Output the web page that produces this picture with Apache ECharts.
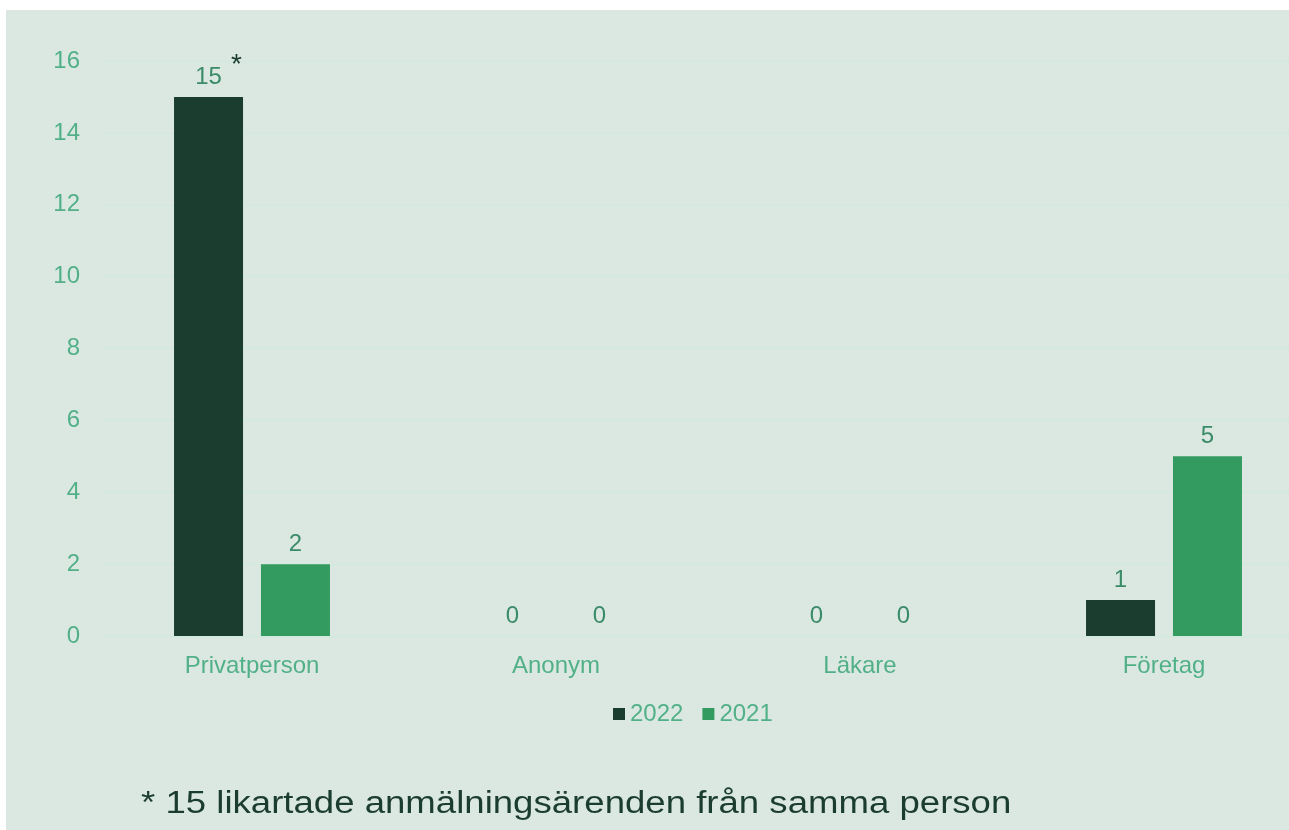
<!DOCTYPE html>
<html>
<head>
<meta charset="utf-8">
<title>Anmälningar</title>
<script src="https://cdn.jsdelivr.net/npm/echarts@6/dist/echarts.min.js"></script>
<style>
  body {
    margin: 0;
    background: #ffffff;
    overflow: hidden;
  }
  /* diagrammet går ut förbi fönstrets högerkant, som i originalet */
  #main {
    position: absolute;
    left: 6px;
    top: 10px;
    width: 1310px;
    height: 820px;
    background: #dbe8e1;
  }
</style>
</head>
<body>
<div id="main"></div>
<script>
// data
var categories = ["Privatperson", "Anonym", "Läkare", "Företag"];
var values2022 = [15, 0, 0, 1];
var values2021 = [2, 0, 0, 5];
var yMin = 0;
var yMax = 16;
var yStep = 2;
var noteText = "* 15 likartade anmälningsärenden från samma person";

var font = "'Liberation Sans', Arial, sans-serif";
var lightGreen = "#52b088";
var labelGreen = "#3a8b68";
var darkGreen = "#1b3d2f";

// värdeetikett, första stapeln får en asterisk
function labelFormatter(params) {
  if (params.seriesName === "2022" && params.dataIndex === 0) {
    return "{p|}{v|" + params.value + "}{a|*}";
  }
  return "{v|" + params.value + "}";
}

var labelOpt = {
  show: true,
  position: "top",
  distance: 8,
  formatter: labelFormatter,
  rich: {
    v: { fontSize: 24, color: labelGreen, fontFamily: font, verticalAlign: "bottom" },
    p: { width: 20 },
    a: {
      fontSize: 28,
      color: darkGreen,
      fontFamily: font,
      verticalAlign: "bottom",
      padding: [0, 0, 10, 9],
    },
  },
};

var option = {
  animation: false,
  textStyle: { fontFamily: font },
  grid: {
    left: 94,
    right: 0,
    top: 51,
    bottom: 194,
  },
  legend: {
    data: ["2022", "2021"],
    left: 602,
    top: 687,
    icon: "rect",
    itemWidth: 12,
    itemHeight: 12,
    itemGap: 19,
    textStyle: { fontSize: 24, color: lightGreen, fontFamily: font },
  },
  xAxis: {
    type: "category",
    data: categories,
    axisLine: { show: false },
    axisTick: { show: false },
    axisLabel: { fontSize: 24, color: lightGreen, margin: 18, fontFamily: font },
  },
  yAxis: {
    type: "value",
    min: yMin,
    max: yMax,
    interval: yStep,
    axisLine: { show: false },
    axisTick: { show: false },
    axisLabel: { fontSize: 24, color: lightGreen, margin: 20, fontFamily: font },
    splitLine: { lineStyle: { color: "#cdeadb", width: 1 } },
  },
  series: [
    {
      name: "2022",
      type: "bar",
      data: values2022,
      barWidth: 69,
      barGap: "26%",
      itemStyle: { color: darkGreen },
      label: labelOpt,
    },
    {
      name: "2021",
      type: "bar",
      data: values2021,
      barWidth: 69,
      barGap: "26%",
      itemStyle: { color: "#339b60" },
      label: labelOpt,
    },
  ],
  graphic: [
    {
      type: "text",
      x: 135,
      y: 794,
      scaleX: 1.18,
      style: {
        text: noteText,
        fontSize: 31,
        fontFamily: font,
        fill: darkGreen,
        verticalAlign: "middle",
      },
    },
  ],
};

var myChart = echarts.init(document.getElementById("main"));
myChart.setOption(option);
</script>
</body>
</html>
